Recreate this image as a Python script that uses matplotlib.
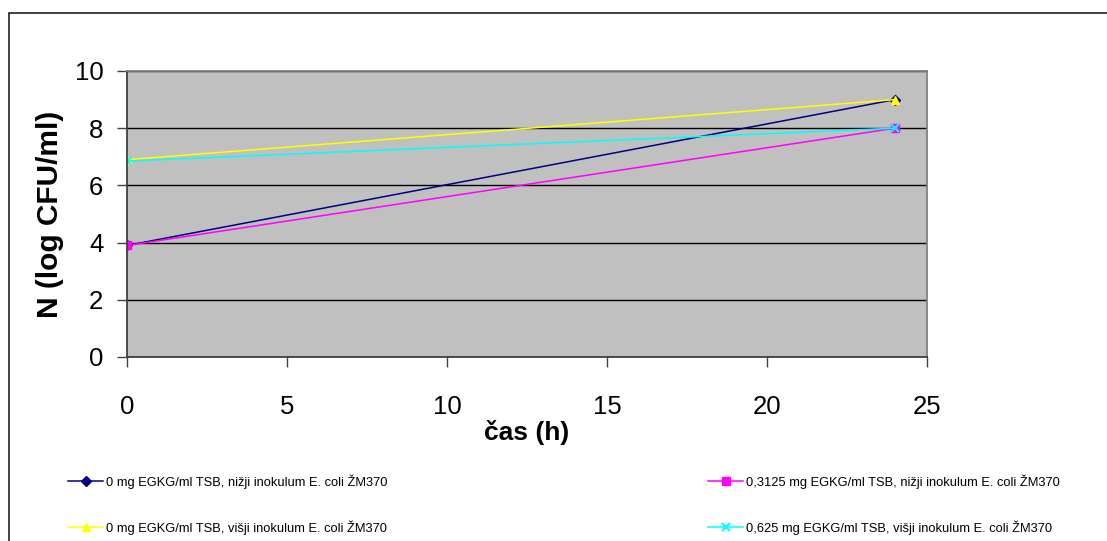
import matplotlib.pyplot as plt
from matplotlib.patches import Rectangle

plt.rcParams['font.family'] = ['Liberation Sans', 'DejaVu Sans']

hours = [0, 24]
nizji_0 = [3.9, 9.0]
nizji_03125 = [3.9, 8.0]
visji_0 = [6.9, 9.0]
visji_0625 = [6.85, 8.0]

labels = [
  '0 mg EGKG/ml TSB, nižji inokulum E. coli ŽM370',
  '0,3125 mg EGKG/ml TSB, nižji inokulum E. coli ŽM370',
  '0 mg EGKG/ml TSB, višji inokulum E. coli ŽM370',
  '0,625 mg EGKG/ml TSB, višji inokulum E. coli ŽM370',
]

W, H = 1107, 541
fig = plt.figure(figsize=(W / 100, H / 100), dpi=100)

# outer chart frame
fig.patches.append(Rectangle((9 / W, -0.1), 1.2, 1 - 13 / H + 0.1, transform=fig.transFigure,
                             fill=False, edgecolor='#202020', linewidth=1.2))

ax = fig.add_axes([127 / W, (H - 357) / H, 800 / W, 286 / H])
ax.set_facecolor('#c0c0c0')

l1, = ax.plot(hours, nizji_0, color='#000080', marker='D', markersize=5, lw=1.1)
l2, = ax.plot(hours, nizji_03125, color='#ff00ff', marker='s', markersize=5.5, lw=1.1)
l3, = ax.plot(hours, visji_0, color='#ffff00', marker='^', markersize=6, lw=1.1)
l4, = ax.plot(hours, visji_0625, color='#00ffff', marker='x', markersize=6, mew=1.5, lw=1.1)

ax.set_xlim(0, 25)
ax.set_ylim(0, 10)
ax.set_xticks(range(0, 26, 5))
ax.set_yticks(range(0, 11, 2))
ax.yaxis.grid(True, color='black', lw=1)
ax.set_axisbelow(True)
ax.tick_params(labelsize=18.5, length=7, width=1, color='#404040', direction='out')
ax.tick_params(axis='x', pad=20)
ax.tick_params(axis='y', pad=10)
for s in ['left', 'bottom']:
  ax.spines[s].set_color('#404040')
  ax.spines[s].set_linewidth(1.3)
for s in ['top', 'right']:
  ax.spines[s].set_color('#808080')
  ax.spines[s].set_linewidth(1.3)

ax.set_xlabel('čas (h)', fontsize=19, fontweight='bold', labelpad=1)
ax.set_ylabel('N (log CFU/ml)', fontsize=21.5, fontweight='bold', labelpad=8)

leg_kw = dict(loc='upper left', frameon=False, fontsize=9.3, handlelength=2.7,
              handletextpad=0.2, labelspacing=2.45, borderaxespad=0)
fig.legend([l1, l3], [labels[0], labels[2]], bbox_to_anchor=(63 / W, 1 - 469 / H), **leg_kw)
fig.legend([l2, l4], [labels[1], labels[3]], bbox_to_anchor=(703 / W, 1 - 469 / H), **leg_kw)

fig.savefig('out.png', dpi=100)
